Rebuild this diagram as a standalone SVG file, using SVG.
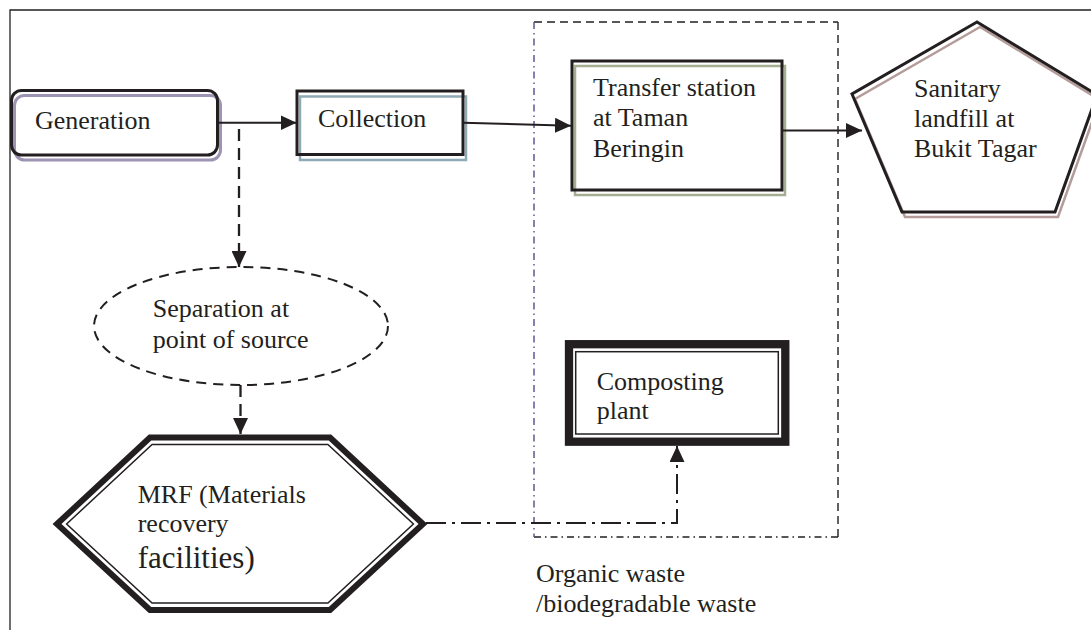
<svg xmlns="http://www.w3.org/2000/svg" width="1091" height="630" viewBox="0 0 1091 630">
<style>
text{font-family:"Liberation Serif","Times New Roman",serif;font-size:26px;fill:#231f20}
.box{fill:none;stroke:#231f20;stroke-width:3}
.conn{fill:none;stroke:#231f20;stroke-width:2}
.dash{stroke-dasharray:12 7;stroke-width:2.3}
.dashdot{stroke-dasharray:20 6 3 6}
</style>
<defs>
<marker id="ah" markerUnits="userSpaceOnUse" markerWidth="16" markerHeight="15" refX="16" refY="7.5" orient="auto">
<path d="M0,0 L16,7.5 L0,15 z" fill="#231f20"/>
</marker>
</defs>
<rect width="1091" height="630" fill="#ffffff"/>
<g id="frame" fill="none" stroke="#231f20" stroke-width="1.3">
<path d="M10,630 L10,10 L1091,10"/>
</g>
<g id="region" fill="none" stroke-width="1.4">
<line x1="534" y1="22" x2="838" y2="22" stroke="#231f20" stroke-dasharray="8 5"/>
<line x1="838" y1="22" x2="838" y2="537" stroke="#231f20" stroke-dasharray="8 5"/>
<line x1="534" y1="537" x2="838" y2="537" stroke="#231f20" stroke-dasharray="7 4 1.5 4"/>
<line x1="534" y1="22" x2="534" y2="537" stroke="#5a4a88" stroke-dasharray="7 4 1.5 4"/>
</g>
<g id="generation">
<rect x="11.5" y="90.5" width="206" height="64.5" rx="10" fill="#ffffff"/>
<rect x="14.5" y="95.5" width="206" height="64.5" rx="10" fill="none" stroke="#9d94b3" stroke-width="3"/>
<rect x="11.5" y="90.5" width="206" height="64.5" rx="10" class="box"/>
<text x="35" y="129">Generation</text>
</g>
<g id="collection">
<rect x="297" y="91" width="166" height="63.5" fill="#ffffff"/>
<rect x="300" y="96.5" width="166" height="63.5" fill="none" stroke="#8eaab5" stroke-width="2.5"/>
<rect x="297" y="91" width="166" height="63.5" class="box"/>
<text x="318" y="126.7">Collection</text>
</g>
<g id="transfer">
<rect x="572" y="61" width="210" height="129" fill="#ffffff"/>
<rect x="575" y="66" width="210" height="129" fill="none" stroke="#a5ae92" stroke-width="2.5"/>
<rect x="572" y="61" width="210" height="129" class="box"/>
<text x="593" y="95.7">Transfer station</text>
<text x="593" y="126">at Taman</text>
<text x="593" y="156.7">Beringin</text>
</g>
<g id="landfill">
<polygon points="977,22 852,94 902,212 1055,212 1097,95" fill="#ffffff"/>
<polygon points="980,27 855,99 905,217 1058,217 1100,100" fill="none" stroke="#b39c9a" stroke-width="2.5"/>
<polygon points="977,22 852,94 902,212 1055,212 1097,95" class="box"/>
<text x="914" y="97.3">Sanitary</text>
<text x="914" y="126.7">landfill at</text>
<text x="914" y="156.7">Bukit Tagar</text>
</g>
<g id="separation">
<ellipse cx="241" cy="326" rx="147" ry="59" fill="#ffffff" stroke="#231f20" stroke-width="2" stroke-dasharray="10 7"/>
<text x="152.7" y="317.3">Separation at</text>
<text x="152.7" y="348.3">point of source</text>
</g>
<g id="mrf">
<polygon points="57,524 150,437.5 330,437.5 423,524 330,610 150,610" fill="#ffffff" stroke="#231f20" stroke-width="6" stroke-linejoin="miter"/>
<polygon points="66.6,524 152.1,444.5 327.9,444.5 413.4,524 327.9,603 152.1,603" fill="none" stroke="#231f20" stroke-width="1.5"/>
<text x="137.7" y="503">MRF (Materials</text>
<text x="137.7" y="532">recovery</text>
<text x="137.7" y="568.3" style="font-size:31px">facilities)</text>
</g>
<g id="composting">
<rect x="569" y="344.2" width="216.3" height="97.5" fill="#ffffff" stroke="#231f20" stroke-width="8.3"/>
<rect x="575.7" y="351.7" width="202.6" height="82.3" fill="none" stroke="#231f20" stroke-width="1.5"/>
<text x="596.7" y="390">Composting</text>
<text x="596.7" y="419">plant</text>
</g>
<g id="label-organic">
<text x="536" y="581.7">Organic waste</text>
<text x="536" y="611.7">/biodegradable waste</text>
</g>
<g id="connectors">
<line x1="217" y1="122.7" x2="296.5" y2="122.7" class="conn" marker-end="url(#ah)"/>
<line x1="463" y1="122.7" x2="571" y2="125.7" class="conn" marker-end="url(#ah)"/>
<line x1="782" y1="130.5" x2="862" y2="130.5" class="conn" marker-end="url(#ah)"/>
<line x1="239" y1="129" x2="239" y2="267" class="conn dash" marker-end="url(#ah)"/>
<line x1="240.5" y1="385" x2="240.5" y2="434" class="conn dash" marker-end="url(#ah)"/>
<polyline points="426,523 677,523 677,446" class="conn dashdot" marker-end="url(#ah)"/>
</g>
</svg>
